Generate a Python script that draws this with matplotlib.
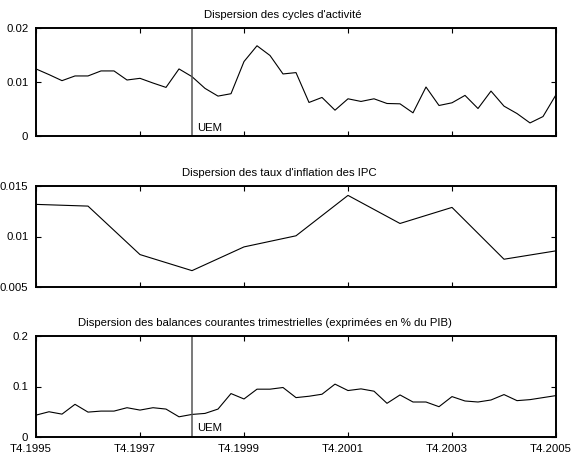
import matplotlib
matplotlib.use('Agg')
import matplotlib.pyplot as plt
from matplotlib.ticker import FixedLocator
from matplotlib.transforms import ScaledTranslation

plt.rcParams['font.family'] = ['Liberation Sans', 'DejaVu Sans']

# quarterly index 0 = T4.1995 ... 40 = T4.2005
quarters = list(range(41))
tick_pos = [0, 8, 16, 24, 32, 40]
tick_labels = ['T4.1995', 'T4.1997', 'T4.1999', 'T4.2001', 'T4.2003', 'T4.2005']
uem_pos = 12

cycles = [0.01242, 0.01137, 0.01025, 0.01112, 0.01112, 0.01205, 0.01205, 0.01037,
          0.01068, 0.00981, 0.00900, 0.01242, 0.01099, 0.00882, 0.00739, 0.00783,
          0.01379, 0.01671, 0.01491, 0.01149, 0.01174, 0.00621, 0.00714, 0.00478,
          0.00689, 0.00640, 0.00689, 0.00602, 0.00596, 0.00429, 0.00907, 0.00565,
          0.00615, 0.00752, 0.00509, 0.00832, 0.00553, 0.00416, 0.00242, 0.00360,
          0.00764]

# annual points (T4 of each year)
years_q = [0, 4, 8, 12, 16, 20, 24, 28, 32, 36, 40]
inflation = [0.01318, 0.01301, 0.00821, 0.00662, 0.00897, 0.01007,
             0.01407, 0.01129, 0.01288, 0.00775, 0.00858]

balances = [0.0433, 0.0500, 0.0453, 0.0647, 0.0493, 0.0513, 0.0513, 0.0580,
            0.0533, 0.0580, 0.0553, 0.0400, 0.0447, 0.0467, 0.0553, 0.0860,
            0.0753, 0.0947, 0.0947, 0.0980, 0.0780, 0.0807, 0.0847, 0.1047,
            0.0920, 0.0953, 0.0907, 0.0667, 0.0833, 0.0693, 0.0693, 0.0600,
            0.0800, 0.0713, 0.0693, 0.0733, 0.0840, 0.0720, 0.0740, 0.0780,
            0.0820]

FS = 8.2
W, H = 572, 454
fig = plt.figure(figsize=(W / 100, H / 100), dpi=100)


def make_axes(top, bottom):
    return fig.add_axes([36 / W, (H - bottom) / H, 520 / W, (bottom - top) / H])


def style(ax, ylim, yticks, ylabels, title, title_x, show_x):
    ax.set_xlim(0, 40)
    ax.set_ylim(*ylim)
    ax.xaxis.set_major_locator(FixedLocator(tick_pos))
    ax.set_xticklabels([])
    ax.set_yticks(yticks)
    ax.set_yticklabels(ylabels)
    if show_x:
        # date labels sit a little left of their ticks in the original
        shift = ScaledTranslation(-0.055, -0.065, fig.dpi_scale_trans)
        for pos, lab in zip(tick_pos, tick_labels):
            ax.text(pos, 0, lab, transform=ax.get_xaxis_transform() + shift,
                    ha='center', va='top', fontsize=FS)
    ax.tick_params(direction='in', length=3.5, width=0.8, top=True, right=True,
                   labelsize=FS, colors='black')
    ax.tick_params(axis='y', pad=5.5)
    for sp in ax.spines.values():
        sp.set_linewidth(1.4)
    # title, placed like the original (slightly left of centre)
    ax.text((title_x - 36) / 520, 1.0, title,
            transform=ax.transAxes + ScaledTranslation(0, 0.08, fig.dpi_scale_trans),
            ha='center', va='bottom', fontsize=FS)


ax1 = make_axes(28, 136)
ax1.plot(quarters, cycles, color='black', lw=0.8)
ax1.axvline(uem_pos, color='#555555', lw=1.1)
ax1.text(uem_pos + 0.38, 0.0006, 'UEM', fontsize=FS, va='bottom')
style(ax1, (0, 0.02), [0, 0.01, 0.02], ['0', '0.01', '0.02'],
      "Dispersion des cycles d'activité", 283, False)

ax2 = make_axes(186, 287)
ax2.plot(years_q, inflation, color='black', lw=0.8)
style(ax2, (0.005, 0.015), [0.005, 0.01, 0.015], ['0.005', '0.01', '0.015'],
      "Dispersion des taux d'inflation des IPC", 279, False)

ax3 = make_axes(336, 437)
ax3.plot(quarters, balances, color='black', lw=0.8)
ax3.axvline(uem_pos, color='#555555', lw=1.1)
ax3.text(uem_pos + 0.38, 0.007, 'UEM', fontsize=FS, va='bottom')
style(ax3, (0, 0.2), [0, 0.1, 0.2], ['0', '0.1', '0.2'],
      'Dispersion des balances courantes trimestrielles (exprimées en % du PIB)', 265, True)

fig.savefig('out.png', dpi=100)
